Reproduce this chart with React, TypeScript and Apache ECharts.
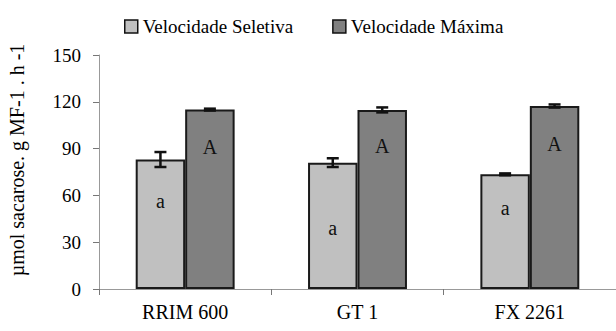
import React, { useEffect, useRef } from "react";
import * as echarts from "echarts";

const categories = ["RRIM 600", "GT 1", "FX 2261"];
const seriesNames = ["Velocidade Seletiva", "Velocidade Máxima"];
const seletiva = [83, 81, 73.5];
const seletivaErr = [4.8, 2.8, 0.6];
const maxima = [115, 114.8, 117.3];
const maximaErr = [0.6, 1.6, 1.0];
const seletivaLetters = ["a", "a", "a"];
const maximaLetters = ["A", "A", "A"];
const yTicks = [0, 30, 60, 90, 120, 150];

const FONT = "'Liberation Serif', 'Times New Roman', serif";
const CAT_GAP = 0.426;

export default function App() {
  const ref = useRef<HTMLDivElement>(null);
  useEffect(() => {
    if (!ref.current) return;
    const chart = echarts.init(ref.current, undefined, { renderer: "svg" });
    const letterDistA = [31, 55, 24];
    const letterDistB = [27, 26, 28];

    const errData: number[][] = [];
    categories.forEach((_, i) => {
      errData.push([i, seletiva[i], seletivaErr[i], 0]);
      errData.push([i, maxima[i], maximaErr[i], 1]);
    });

    chart.setOption({
      animation: false,
      textStyle: { fontFamily: FONT },
      legend: {
        left: 119,
        top: 12,
        itemWidth: 13,
        itemHeight: 13,
        itemGap: 39,
        icon: "rect",
        textStyle: { fontFamily: FONT, fontSize: 19, color: "#000" },
        data: seriesNames.map((n) => ({ name: n, itemStyle: { borderColor: "#111", borderWidth: 1.5 } })),
      },
      grid: { left: 99, right: 0, top: 55, bottom: 42, containLabel: false, outerBoundsMode: "none" },
      xAxis: {
        type: "category",
        data: categories,
        axisLine: { lineStyle: { color: "#999", width: 1 } },
        axisTick: { show: true, alignWithLabel: false, length: 6, lineStyle: { color: "#777" } },
        axisLabel: { fontFamily: FONT, fontSize: 20, color: "#000", margin: 13 },
      },
      yAxis: {
        type: "value",
        min: yTicks[0],
        max: yTicks[yTicks.length - 1],
        interval: 30,
        name: "µmol sacarose. g MF-1 . h -1",
        nameLocation: "middle",
        nameRotate: 90,
        nameGap: 72,
        nameTextStyle: { fontFamily: FONT, fontSize: 20, color: "#000", padding: [0, 0, 0, 24] },
        axisLine: { show: true, lineStyle: { color: "#999", width: 1 } },
        axisTick: { show: true, length: 6, lineStyle: { color: "#777" } },
        splitLine: { show: false },
        axisLabel: { fontFamily: FONT, fontSize: 19, color: "#000", margin: 18 },
      },
      series: [
        {
          name: seriesNames[0],
          type: "bar",
          barGap: "0%",
          barCategoryGap: CAT_GAP * 100 + "%",
          itemStyle: { color: "#c0c0c0", borderColor: "#1a1a1a", borderWidth: 2 },
          data: seletiva.map((v, i) => ({
            value: v,
            label: {
              show: true,
              position: "insideTop",
              distance: letterDistA[i],
              formatter: seletivaLetters[i],
              fontFamily: FONT,
              fontSize: 20,
              color: "#111",
            },
          })),
        },
        {
          name: seriesNames[1],
          type: "bar",
          barGap: "0%",
          barCategoryGap: CAT_GAP * 100 + "%",
          itemStyle: { color: "#808080", borderColor: "#1a1a1a", borderWidth: 2 },
          data: maxima.map((v, i) => ({
            value: v,
            label: {
              show: true,
              position: "insideTop",
              distance: letterDistB[i],
              formatter: maximaLetters[i],
              fontFamily: FONT,
              fontSize: 20,
              color: "#111",
            },
          })),
        },
        {
          type: "custom",
          name: "err",
          z: 10,
          data: errData,
          renderItem: (params: any, api: any) => {
            const ci = api.value(0);
            const val = api.value(1);
            const err = api.value(2);
            const side = api.value(3);
            const catW = api.size([1, 0])[0];
            const barW = (catW * (1 - CAT_GAP)) / 2;
            const c = api.coord([ci, val]);
            const x = c[0] + (side === 0 ? -barW / 2 : barW / 2);
            const yHi = api.coord([ci, val + err])[1];
            const yLo = api.coord([ci, val - err])[1];
            const cap = 6;
            const style = { stroke: "#111", lineWidth: 2.5 };
            return {
              type: "group",
              children: [
                { type: "line", shape: { x1: x, y1: yHi, x2: x, y2: yLo }, style },
                { type: "line", shape: { x1: x - cap, y1: yHi, x2: x + cap, y2: yHi }, style },
                { type: "line", shape: { x1: x - cap, y1: yLo, x2: x + cap, y2: yLo }, style },
              ],
            };
          },
        },
      ],
    });
    return () => chart.dispose();
  }, []);
  return (
    <div
      ref={ref}
      style={{ position: "fixed", left: 0, top: 0, width: 616, height: 331, background: "#fff" }}
    />
  );
}
